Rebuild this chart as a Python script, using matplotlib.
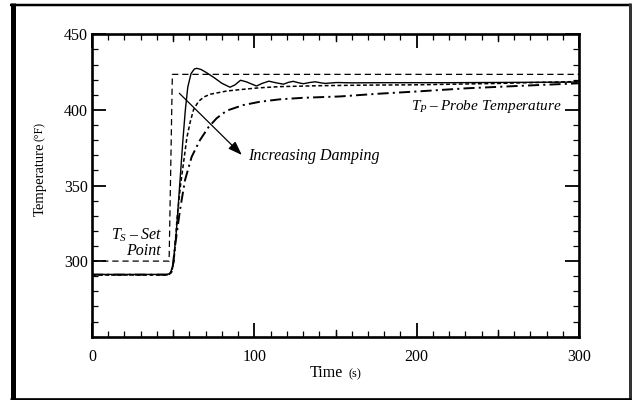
import matplotlib
matplotlib.use("Agg")
import matplotlib.pyplot as plt
from matplotlib.lines import Line2D
from matplotlib.ticker import MultipleLocator, FixedLocator

# ---- data ----
set_t = [0, 47.5, 49.5, 300]
set_T = [300, 300, 423.5, 423.5]

# lightly damped (solid)
solid_t = [0, 46, 47.5, 48.5, 50, 52, 54, 56, 57.5, 59, 61, 63, 64.5, 67, 70, 75,
           80, 85, 88, 91.5, 95, 101.3, 105, 109, 113, 117.9, 121, 124, 127, 130.2,
           134, 137.4, 141, 143.6, 147, 150.8, 160, 180, 220, 260, 300]
solid_T = [291.2, 291.2, 291.6, 292.8, 298, 320, 350, 380, 400, 415, 424, 427, 427.5, 426.8, 425, 421.5,
           417.6, 415.0, 416.5, 419.6, 418.6, 415.8, 417.6, 419.0, 418.0, 417.0, 418.2, 418.9, 418.0, 417.3,
           418.1, 418.6, 417.9, 417.5, 417.8, 418.1, 417.9, 418.0, 418.0, 418.2, 418.4]

# medium damping (short dashes)
dot_t = [0, 46, 47.5, 49, 50.5, 52.3, 54.5, 56.5, 58.5, 60.5, 62.5, 65.5, 69, 73, 83,
         93, 103, 116, 140, 170, 200, 250, 300]
dot_T = [290.8, 290.8, 291.2, 292.5, 300, 327, 350, 366, 382, 392, 400, 405.5, 408.6, 410.4, 412.5,
         413.6, 414.6, 415.4, 416.0, 416.4, 416.6, 417.5, 418.8]

# heavy damping (dash-dot)
dd_t = [0, 46, 48, 49.5, 51.1, 54.2, 57.3, 61.4, 66.5, 71.7, 76.8, 83, 93.2, 103.5, 115.8,
        130, 152.8, 175, 201.8, 230.9, 265.7, 300]
dd_T = [291.0, 291.0, 291.4, 294, 309.5, 333.8, 353.6, 369, 380, 388.5, 394.5, 399.5, 403.2, 405.4, 407,
        408, 408.9, 410.6, 412.3, 414.3, 416.0, 417.6]

x_ticks = [0, 100, 200, 300]
y_ticks = [300, 350, 400, 450]

# ---- styling ----
plt.rcParams["font.family"] = ["Liberation Serif", "DejaVu Serif"]
plt.rcParams["mathtext.fontset"] = "custom"
plt.rcParams["mathtext.rm"] = "Liberation Serif"
plt.rcParams["mathtext.it"] = "Liberation Serif:italic"
plt.rcParams["lines.scale_dashes"] = False

W, H = 632, 400
fig = plt.figure(figsize=(W / 100, H / 100), dpi=100)
ax = fig.add_axes([92 / W, 1 - 336.7 / H, (579 - 92) / W, (336.7 - 34.3) / H])

ax.plot(set_t, set_T, color="black", lw=0.9, linestyle=(0, (4.5, 2.8)))
ax.plot(solid_t, solid_T, color="black", lw=1.0)
ax.plot(dot_t, dot_T, color="black", lw=1.1, linestyle=(0, (2.8, 1.8)))
ax.plot(dd_t, dd_T, color="black", lw=1.4, linestyle=(0, (8, 3, 1.5, 3)))

ax.set_xlim(0, 300)
ax.set_ylim(250, 450)
ax.xaxis.set_major_locator(FixedLocator(x_ticks))
ax.xaxis.set_minor_locator(MultipleLocator(10))
ax.yaxis.set_major_locator(FixedLocator(y_ticks))
ax.yaxis.set_minor_locator(MultipleLocator(10))
ax.tick_params(which="both", direction="in", top=True, right=True, labelsize=11.5, color="black")
ax.tick_params(axis="x", which="major", length=10, width=1.3, pad=9)
ax.tick_params(axis="y", which="major", length=10, width=1.3, pad=3)
ax.tick_params(which="minor", length=4, width=0.9)
for s in ax.spines.values():
    s.set_linewidth(1.9)

# medium ticks at the 50s on the time axis
for t in [50, 150, 250]:
    for yb, d in [(0, 1), (1, -1)]:
        ax.add_line(Line2D([t, t], [yb, yb + d * 0.023], transform=ax.get_xaxis_transform(),
                           color="black", lw=1.0, clip_on=False))

# arrow and annotations
ax.annotate("", xy=(92.3, 370.2), xytext=(53.8, 411),
            arrowprops=dict(arrowstyle="-|>,head_length=0.7,head_width=0.25", color="black", lw=0.9,
                            mutation_scale=12, shrinkA=0, shrinkB=0))
ax.text(96, 369.5, "Increasing Damping", style="italic", fontsize=11.5, va="center", ha="left")
ax.text(196.5, 402.5, "$T_P$\u2009–\u2009Probe Temperature", style="italic", fontsize=11,
        va="center", ha="left")
ax.text(43.3, 317.3, "$T_S$\u2009–\u2009Set", style="italic", fontsize=11.5, va="center", ha="right")
ax.text(42.6, 306.9, "Point", style="italic", fontsize=11.5, va="center", ha="right")

# axis titles (with smaller units)
fig.text(40 / W, 1 - 216 / H, "Temperature", rotation=90, ha="center", va="bottom", fontsize=10.5)
fig.text(40 / W, 1 - 141 / H, "(°F)", rotation=90, ha="center", va="bottom", fontsize=8.5)
fig.text(343 / W, 1 - 373 / H, "Time", ha="right", va="center", fontsize=11.5)
fig.text(348 / W, 1 - 374 / H, "(s)", ha="left", va="center", fontsize=9)

# outer frame
def px_line(x0, y0, x1, y1, lw_px, color="black"):
    fig.add_artist(Line2D([x0 / W, x1 / W], [1 - y0 / H, 1 - y1 / H], transform=fig.transFigure,
                          color=color, lw=lw_px * 0.72, solid_capstyle="butt"))

px_line(10, 4.5, 631, 4.5, 2.5)
px_line(630.3, 3.3, 630.3, 400, 3, color="#333333")
px_line(10, 398.7, 631, 398.7, 2.7)
px_line(12.5, 3.3, 12.5, 400, 5)

fig.savefig("out.png", dpi=100, facecolor="white")
